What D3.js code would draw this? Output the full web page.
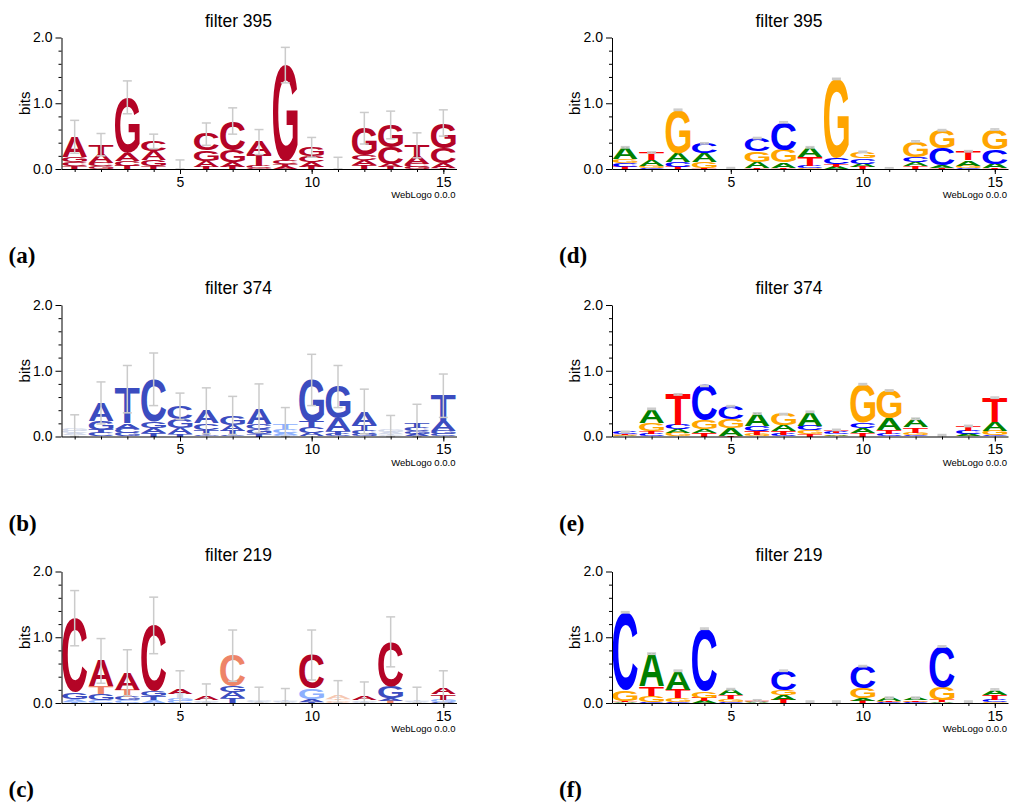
<!DOCTYPE html>
<html>
<head>
<meta charset="utf-8">
<script src="https://cdn.jsdelivr.net/npm/d3@7"></script>
<style>
  body { margin: 0; background: #fff; }
  text { font-family: "Liberation Sans", Arial, sans-serif; }
</style>
</head>
<body>
<svg id="fig" width="1009" height="805"></svg>
<script>
// Nucleotides, in the column order of every height table below: [A, C, G, T]
const bases = ["A", "C", "G", "T"];
const positions = d3.range(1, 16);
const majorBits = [0, 1, 2];
const minorBits = [0.2, 0.4, 0.6, 0.8, 1.2, 1.4, 1.6, 1.8];
const labelledPositions = [5, 10, 15];

// ---- filter 395 ----
const f395HeightsA = [
  [0.31, 0.06, 0.08, 0.04], [0.13, 0.05, 0.04, 0.15], [0.12, 0.07, 0.85, 0.05],
  [0.14, 0.15, 0.09, 0.04], [0.004, 0.003, 0.006, 0.005], [0.09, 0.25, 0.16, 0.03],
  [0.08, 0.44, 0.18, 0.03], [0.19, 0.03, 0.02, 0.17], [0.03, 0.05, 1.46, 0.04],
  [0.08, 0.09, 0.13, 0.03], [0.005, 0.004, 0.003, 0.006], [0.07, 0.08, 0.41, 0.06],
  [0.05, 0.25, 0.34, 0.03], [0.11, 0.05, 0.03, 0.17], [0.07, 0.23, 0.38, 0.02]
];
const f395ErrorsA = [0.25, 0.17, 0.25, 0.11, 0.12, 0.17, 0.20, 0.19, 0.27, 0.15, 0.16, 0.24, 0.21, 0.19, 0.20];
const f395ShadesA = ["RRRR", "RRRR", "RRRR", "RRRR", "RRRR", "RRRR", "RRRR", "RRRR",
                     "RRRR", "RRRR", "RRRR", "RRRR", "RRRR", "RRRR", "RRRR"];

const f395HeightsD = [
  [0.18, 0.06, 0.06, 0.03], [0.09, 0.02, 0.03, 0.11], [0.13, 0.08, 0.66, 0.03],
  [0.13, 0.15, 0.09, 0.02], [0.003, 0.002, 0.004, 0.003], [0.09, 0.20, 0.16, 0.02],
  [0.08, 0.42, 0.19, 0.02], [0.15, 0.03, 0.01, 0.14], [0.03, 0.09, 1.21, 0.04],
  [0.05, 0.08, 0.10, 0.03], [0.002, 0.003, 0.003, 0.002], [0.06, 0.08, 0.24, 0.04],
  [0.04, 0.26, 0.27, 0.02], [0.08, 0.02, 0.03, 0.14], [0.07, 0.22, 0.30, 0.01]
];
const f395ErrorsD = [0.01, 0.01, 0.01, 0.01, 0.01, 0.01, 0.01, 0.01, 0.01, 0.01, 0.01, 0.01, 0.01, 0.01, 0.01];

// ---- filter 374 ----
const f374HeightsB = [
  [0.03, 0.03, 0.04, 0.02], [0.28, 0.05, 0.13, 0.05], [0.08, 0.07, 0.05, 0.52],
  [0.08, 0.64, 0.10, 0.05], [0.10, 0.20, 0.13, 0.03], [0.19, 0.10, 0.02, 0.08],
  [0.09, 0.02, 0.14, 0.07], [0.24, 0.08, 0.07, 0.04], [0.03, 0.06, 0.02, 0.08],
  [0.05, 0.09, 0.63, 0.09], [0.19, 0.03, 0.49, 0.05], [0.20, 0.05, 0.04, 0.09],
  [0.03, 0.02, 0.03, 0.02], [0.04, 0.05, 0.04, 0.08], [0.15, 0.03, 0.05, 0.39]
];
const f374ErrorsB = [0.21, 0.32, 0.36, 0.40, 0.20, 0.35, 0.29, 0.37, 0.25, 0.39, 0.32, 0.34, 0.22, 0.28, 0.33];
const f374ShadesB = ["nnnn", "BBBB", "BBBB", "BBBB", "BBBB", "BBBB", "BBBB", "BBBB",
                     "bbbb", "BBBB", "BBBB", "BBBB", "nnnn", "BBBB", "BBBB"];

const f374HeightsE = [
  [0.01, 0.03, 0.01, 0.02], [0.22, 0.04, 0.12, 0.04], [0.06, 0.07, 0.05, 0.46],
  [0.06, 0.53, 0.13, 0.05], [0.11, 0.20, 0.14, 0.01], [0.19, 0.08, 0.03, 0.05],
  [0.09, 0.03, 0.17, 0.05], [0.21, 0.07, 0.065, 0.03], [0.02, 0.03, 0.01, 0.04],
  [0.075, 0.08, 0.58, 0.06], [0.18, 0.04, 0.43, 0.05], [0.13, 0.02, 0.04, 0.08],
  [0.005, 0.005, 0.005, 0.005], [0.03, 0.05, 0.01, 0.07], [0.13, 0.02, 0.07, 0.37]
];
const f374ErrorsE = [0.01, 0.01, 0.01, 0.01, 0.01, 0.01, 0.01, 0.01, 0.01, 0.01, 0.01, 0.01, 0.01, 0.01, 0.01];

// ---- filter 219 ----
const f219HeightsC = [
  [0.04, 1.13, 0.10, 0.02], [0.39, 0.04, 0.10, 0.11], [0.26, 0.04, 0.05, 0.11],
  [0.04, 1.00, 0.08, 0.06], [0.08, 0.03, 0.04, 0.07], [0.05, 0.01, 0.02, 0.01],
  [0.09, 0.47, 0.09, 0.07], [0.01, 0.01, 0.02, 0.01], [0.01, 0.01, 0.01, 0.01],
  [0.04, 0.51, 0.16, 0.02], [0.05, 0.02, 0.02, 0.02], [0.06, 0.01, 0.02, 0.01],
  [0.04, 0.68, 0.18, 0.03], [0.01, 0.01, 0.01, 0.01], [0.09, 0.02, 0.03, 0.08]
];
const f219ErrorsC = [0.42, 0.34, 0.35, 0.43, 0.27, 0.20, 0.39, 0.19, 0.18, 0.38, 0.23, 0.22, 0.38, 0.20, 0.27];
const f219ShadesC = ["bRBb", "RbBr", "RbBr", "bRBB", "Rbbn", "Rnnn", "BrBB", "nnnn",
                     "nnnn", "BRbB", "pppp", "Rnnn", "BRBr", "nnnn", "RBbR"];

const f219HeightsF = [
  [0.01, 1.19, 0.16, 0.02], [0.50, 0.01, 0.10, 0.14], [0.29, 0.02, 0.05, 0.13],
  [0.03, 0.95, 0.10, 0.05], [0.09, 0.02, 0.04, 0.06], [0.01, 0.01, 0.01, 0.01],
  [0.07, 0.30, 0.07, 0.05], [0.005, 0.005, 0.005, 0.005], [0.005, 0.005, 0.005, 0.005],
  [0.04, 0.33, 0.16, 0.03], [0.05, 0.01, 0.01, 0.01], [0.04, 0.01, 0.01, 0.02],
  [0.01, 0.62, 0.19, 0.04], [0.005, 0.005, 0.005, 0.005], [0.08, 0.03, 0.02, 0.075]
];
const f219ErrorsF = [0.01, 0.01, 0.01, 0.01, 0.01, 0.01, 0.01, 0.01, 0.01, 0.01, 0.01, 0.01, 0.01, 0.01, 0.01];

// Diverging palette for the importance-shaded logos, classic palette for the others
const shadePalette = { R: "#b40426", r: "#ee8468", B: "#3b4cc0", b: "#8db0fe", n: "#d3d9ea", p: "#f6c8b2" };
const classicPalette = { A: "#008000", C: "#0000ff", G: "#ffa500", T: "#ff0000" };

const panels = [
  { tag: "(a)", title: "filter 395", heights: f395HeightsA, errors: f395ErrorsA, shades: f395ShadesA, col: 0, row: 0 },
  { tag: "(b)", title: "filter 374", heights: f374HeightsB, errors: f374ErrorsB, shades: f374ShadesB, col: 0, row: 1 },
  { tag: "(c)", title: "filter 219", heights: f219HeightsC, errors: f219ErrorsC, shades: f219ShadesC, col: 0, row: 2 },
  { tag: "(d)", title: "filter 395", heights: f395HeightsD, errors: f395ErrorsD, shades: null, col: 1, row: 0 },
  { tag: "(e)", title: "filter 374", heights: f374HeightsE, errors: f374ErrorsE, shades: null, col: 1, row: 1 },
  { tag: "(f)", title: "filter 219", heights: f219HeightsF, errors: f219ErrorsF, shades: null, col: 1, row: 2 }
];

// Layout
const colRanges = [[61.5, 456.5], [612, 1008]];
const rowBase = [169, 436.5, 703];
const plotH = 131.5;
const FS = 200;
const FONT = '"Liberation Sans", Arial, sans-serif';

// Ink bounds of each glyph, so letters can be stretched to fill their slot exactly
const ctx = document.createElement("canvas").getContext("2d");
ctx.font = `bold ${FS}px ${FONT}`;
const ink = {};
bases.forEach(b => {
  const m = ctx.measureText(b);
  ink[b] = { l: m.actualBoundingBoxLeft, r: m.actualBoundingBoxRight,
             a: m.actualBoundingBoxAscent, d: m.actualBoundingBoxDescent };
});

const svg = d3.select("#fig");
svg.append("rect").attr("width", 1009).attr("height", 805).attr("fill", "#fff");

panels.forEach(p => {
  const xr = colRanges[p.col];
  const y0 = rowBase[p.row];
  const x = d3.scaleLinear().domain([0.5, 15.5]).range(xr);
  const y = d3.scaleLinear().domain([0, 2]).range([y0, y0 - plotH]);
  const g = svg.append("g");
  const colW = x(2) - x(1);
  const letterW = colW * 0.94;

  // Stacked letters: smallest at the bottom, tallest on top
  const letters = g.append("g");
  positions.forEach((pos, i) => {
    const stack = bases.map((b, k) => ({
      b, h: p.heights[i][k],
      c: p.shades ? shadePalette[p.shades[i][k]] : classicPalette[b]
    })).sort((u, v) => u.h - v.h);
    let acc = 0;
    stack.forEach(s => {
      const yb = y(acc), yt = y(acc + s.h);
      acc += s.h;
      const hpx = yb - yt;
      if (hpx < 0.6) return;
      const m = ink[s.b];
      const x0 = x(pos) - letterW / 2;
      letters.append("text")
        .text(s.b)
        .attr("font-size", FS)
        .attr("font-weight", "bold")
        .attr("fill", s.c)
        .attr("transform",
          `translate(${x0},${yb}) scale(${letterW / (m.l + m.r)},${hpx / (m.a + m.d)}) translate(${m.l},${-m.d})`);
    });
  });

  // Error bars centred on each stack's top
  const eb = g.append("g").attr("stroke", "#cbcbcb").attr("stroke-width", 1.5).attr("fill", "none");
  positions.forEach((pos, i) => {
    const total = d3.sum(p.heights[i]);
    const e = p.errors[i];
    const cx = x(pos);
    const yTop = y(total + e), yBot = y(Math.max(0, total - e));
    eb.append("line").attr("x1", cx).attr("x2", cx).attr("y1", yTop).attr("y2", yBot);
    eb.append("line").attr("x1", cx - 4.5).attr("x2", cx + 4.5).attr("y1", yTop).attr("y2", yTop);
    eb.append("line").attr("x1", cx - 4.5).attr("x2", cx + 4.5).attr("y1", yBot).attr("y2", yBot);
  });

  // Y axis: minor ticks every 0.2 bits, labelled major ticks
  g.append("g").attr("transform", `translate(${xr[0]},0)`)
    .call(d3.axisLeft(y).tickValues(minorBits).tickSize(3).tickFormat(""))
    .call(a => a.select(".domain").remove());
  g.append("g").attr("transform", `translate(${xr[0]},0)`)
    .call(d3.axisLeft(y).tickValues(majorBits).tickSize(6).tickSizeOuter(0).tickPadding(3).tickFormat(d3.format(".1f")))
    .call(a => a.selectAll("text").attr("font-size", 14).attr("fill", "#000").style("font-family", FONT));

  // X axis: a tick per position, numbers every five
  g.append("g").attr("transform", `translate(0,${y0})`)
    .call(d3.axisBottom(x).tickValues(positions).tickSize(3).tickSizeOuter(0).tickFormat(""));
  g.append("g").attr("transform", `translate(0,${y0})`)
    .call(d3.axisBottom(x).tickValues(labelledPositions).tickSize(5).tickSizeOuter(0).tickPadding(3))
    .call(a => a.select(".domain").remove())
    .call(a => a.selectAll("text").attr("font-size", 14).attr("fill", "#000").style("font-family", FONT));

  // Texts
  g.append("text").attr("x", xr[0] + 177).attr("y", y0 - 142.5)
    .attr("text-anchor", "middle").attr("font-size", 17.5).text(p.title);
  g.append("text").attr("transform", `translate(${xr[0] - 32},${y(1)}) rotate(-90)`)
    .attr("text-anchor", "middle").attr("font-size", 15).text("bits");
  g.append("text").attr("x", xr[1] - 1).attr("y", y0 + 29)
    .attr("text-anchor", "end").attr("font-size", 9.5).text("WebLogo 0.0.0");
  g.append("text").attr("x", xr[0] - 53).attr("y", y0 + 94)
    .style("font-family", '"Liberation Serif", "Times New Roman", serif')
    .attr("font-weight", "bold").attr("font-size", 23).text(p.tag);
});
</script>
</body>
</html>
